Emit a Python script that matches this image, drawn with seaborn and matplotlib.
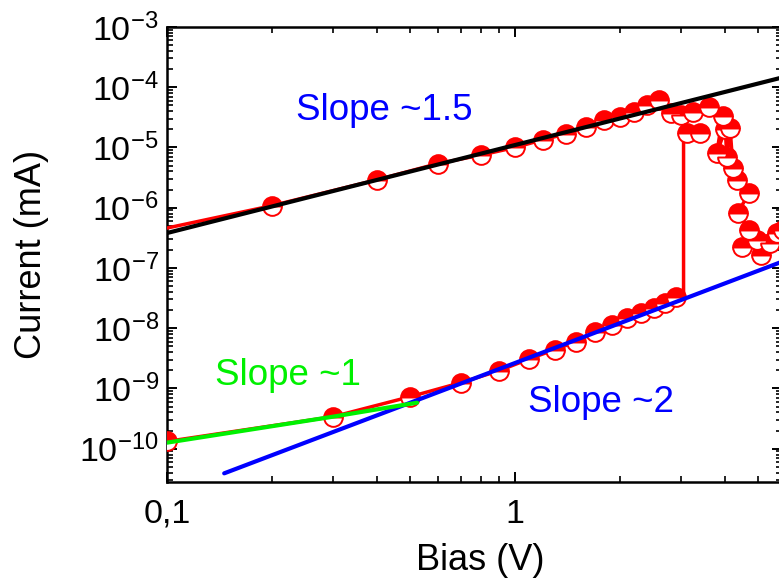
import numpy as np
import pandas as pd
import matplotlib
matplotlib.use("Agg")
import matplotlib.pyplot as plt
from matplotlib.ticker import FixedLocator, FixedFormatter, LogLocator, NullFormatter
import seaborn as sns

# High-conductance branch: bias (V) and current (mA)
high_bias = [0.1, 0.2, 0.4, 0.6, 0.8, 1.0, 1.2, 1.4, 1.6, 1.8, 2.0, 2.2, 2.4, 2.6,
             2.8, 3.0, 3.25, 3.6, 3.95, 3.8, 4.02, 4.06, 4.15, 4.23, 4.35, 4.7,
             4.37, 4.7, 4.5, 4.96, 5.1, 5.4, 5.66, 5.9]
high_current = [4.6e-7, 1.08e-6, 2.9e-6, 5.4e-6, 7.5e-6, 1.0e-5, 1.34e-5, 1.68e-5,
                2.2e-5, 2.87e-5, 3.2e-5, 3.9e-5, 5.1e-5, 6.2e-5,
                3.75e-5, 3.5e-5, 3.9e-5, 4.7e-5, 3.3e-5, 8.1e-6, 2.0e-5, 7.0e-6,
                2.1e-5, 4.6e-6, 2.9e-6, 1.74e-6,
                8.3e-7, 4.3e-7, 2.2e-7, 2.9e-7, 1.66e-7, 2.6e-7, 3.8e-7, 4.2e-7]

# Low-conductance branch with the switching jump near 3 V
low_bias = [0.1, 0.3, 0.5, 0.7, 0.9, 1.1, 1.3, 1.5, 1.7, 1.9, 2.1, 2.3, 2.5, 2.7,
            2.9, 3.05, 3.05, 3.12, 3.4]
low_current = [1.32e-10, 3.4e-10, 7.3e-10, 1.25e-9, 1.97e-9, 3.1e-9, 4.4e-9, 6.0e-9,
               8.7e-9, 1.14e-8, 1.49e-8, 1.8e-8, 2.19e-8, 2.65e-8,
               3.3e-8, 3.5e-8, 1.75e-5, 1.75e-5, 1.75e-5]

# Power-law guides
fit15_bias = [0.1, 5.85]
fit15_current = [3.8e-7, 1.45e-4]
fit2_bias = [0.146, 5.85]
fit2_current = [3.9e-11, 1.27e-7]
fit1_bias = [0.1, 0.3, 0.523]
fit1_current = [1.26e-10, 3.4e-10, 5.8e-10]

x_ticks = [0.1, 1]
x_tick_labels = ["0,1", "1"]
y_ticks = [1e-10, 1e-9, 1e-8, 1e-7, 1e-6, 1e-5, 1e-4, 1e-3]
y_tick_labels = [r"$10^{-10}$", r"$10^{-9}$", r"$10^{-8}$", r"$10^{-7}$",
                 r"$10^{-6}$", r"$10^{-5}$", r"$10^{-4}$", r"$10^{-3}$"]

sns.set_theme(style="ticks")
plt.rcParams["font.family"] = ["Liberation Sans", "DejaVu Sans"]
plt.rcParams["mathtext.fontset"] = "custom"
plt.rcParams["mathtext.rm"] = "Liberation Sans"
plt.rcParams["mathtext.it"] = "Liberation Sans:italic"
plt.rcParams["mathtext.bf"] = "Liberation Sans:bold"
plt.rcParams["mathtext.default"] = "regular"

W, H = 779, 583
fig = plt.figure(figsize=(W / 100, H / 100), dpi=100)
fig.patch.set_facecolor("white")
left, right, top, bottom = 167, 782, 27, 482
ax = fig.add_axes([left / W, (H - bottom) / H, (right - left) / W, (bottom - top) / H])
ax.set_facecolor("white")
ax.set_xscale("log")
ax.set_yscale("log")

high = pd.DataFrame({"bias": high_bias, "current": high_current})
low = pd.DataFrame({"bias": low_bias, "current": low_current})

marker_style = dict(marker="o", markersize=13.5, fillstyle="top",
                    markerfacecolor="red", markerfacecoloralt="white",
                    markeredgecolor="red", markeredgewidth=1.4)

sns.lineplot(data=high, x="bias", y="current", sort=False, estimator=None,
             color="red", linewidth=2.5, ax=ax, zorder=3,
             markevery=list(range(1, len(high_bias))), **marker_style)
sns.lineplot(data=low, x="bias", y="current", sort=False, estimator=None,
             color="red", linewidth=2.5, ax=ax, zorder=3,
             markevery=[i for i in range(len(low_bias)) if i not in (15, 16)],
             **marker_style)

sns.lineplot(x=fit15_bias, y=fit15_current, color="black", linewidth=3.0, ax=ax, zorder=4)
sns.lineplot(x=fit2_bias, y=fit2_current, color="#0000ff", linewidth=3.0, ax=ax, zorder=4)
sns.lineplot(x=fit1_bias, y=fit1_current, color="#00f000", linewidth=3.0, ax=ax, zorder=4)

ax.text(0.235, 2.87e-5, "Slope ~1.5", color="#0000ff", fontsize=26.5,
        ha="left", va="baseline", zorder=5)
ax.text(0.137, 1.16e-9, "Slope ~1", color="#00f000", fontsize=26.5,
        ha="left", va="baseline", zorder=5)
ax.text(1.09, 4.1e-10, "Slope ~2", color="#0000ff", fontsize=26.5,
        ha="left", va="baseline", zorder=5)

ax.set_xlim(0.1, 5.85)
ax.set_ylim(2.8e-11, 1e-3)

ax.xaxis.set_major_locator(FixedLocator(x_ticks))
ax.xaxis.set_major_formatter(FixedFormatter(x_tick_labels))
ax.xaxis.set_minor_locator(LogLocator(base=10, subs=np.arange(2, 10), numticks=20))
ax.xaxis.set_minor_formatter(NullFormatter())
ax.yaxis.set_major_locator(FixedLocator(y_ticks))
ax.yaxis.set_major_formatter(FixedFormatter(y_tick_labels))
ax.yaxis.set_minor_locator(LogLocator(base=10, subs=np.arange(2, 10), numticks=30))
ax.yaxis.set_minor_formatter(NullFormatter())

ax.tick_params(which="both", direction="in", top=True, right=True, color="black")
ax.tick_params(which="major", length=7, width=1.4, labelsize=24.5, labelcolor="black")
ax.tick_params(axis="y", which="major", pad=6)
ax.tick_params(axis="x", which="major", pad=12)
ax.tick_params(which="minor", length=4, width=1.2)
for s in ax.spines.values():
    s.set_linewidth(1.8)
    s.set_color("black")

ax.set_xlabel("Bias (V)", fontsize=26, color="black", labelpad=9)
ax.set_ylabel("Current (mA)", fontsize=26, color="black", labelpad=22)
ax.xaxis.set_label_coords(0.51, -0.135)
ax.get_legend() and ax.get_legend().remove()

fig.savefig("out.png", dpi=100, facecolor="white")
